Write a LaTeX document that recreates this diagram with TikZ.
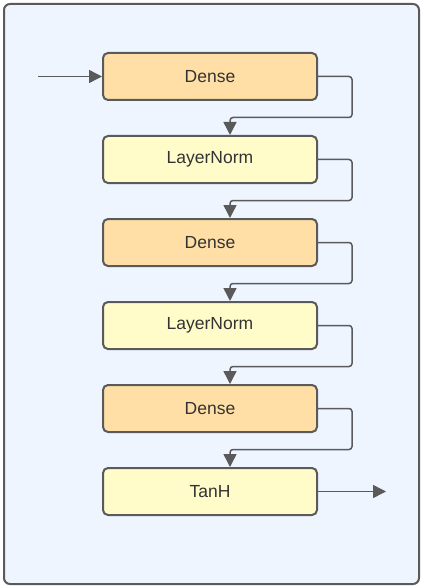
\documentclass[tikz,border=0pt]{standalone}
\usepackage{fontspec}
\setmainfont{Liberation Sans}
\usetikzlibrary{arrows.meta}
\definecolor{bgblue}{HTML}{EEF5FF}
\definecolor{edge}{HTML}{5A5A5A}
\definecolor{denseC}{HTML}{FFDFA6}
\definecolor{normC}{HTML}{FFFCCA}
\definecolor{txt}{HTML}{333333}
\tikzset{
  blk/.style={draw=edge, line width=2pt, rounded corners=5pt, minimum width=214pt, minimum height=47pt, inner sep=0pt, text=txt, font=\fontsize{17.5}{20}\selectfont},
  denseblk/.style={blk, fill=denseC},
  normblk/.style={blk, fill=normC},
  conn/.style={draw=edge, line width=1.5pt, rounded corners=3pt, -{Triangle[width=13pt,length=13pt]}},
}
\begin{document}
\begin{tikzpicture}[x=1pt,y=-1pt]
\useasboundingbox (0,0) rectangle (423,588);
\draw[draw=edge, line width=2pt, fill=bgblue, rounded corners=6pt] (4,4) rectangle (419,584);
\node[denseblk] (d1) at (210,76.5) {Dense};
\node[normblk] (l1) at (210,159.5) {LayerNorm};
\node[denseblk] (d2) at (210,242.5) {Dense};
\node[normblk] (l2) at (210,325.5) {LayerNorm};
\node[denseblk] (d3) at (210,408.5) {Dense};
\node[normblk] (t1) at (210,491.5) {TanH};
\coordinate (in) at (38,76.5);
\coordinate (out) at (386,491.5);
\draw[conn] (in) -- (d1.west);
\draw[conn] (d1.east) -- ++(34,0) -- ++(0,41) -| ([xshift=20pt]l1.north);
\draw[conn] (l1.east) -- ++(34,0) -- ++(0,41) -| ([xshift=20pt]d2.north);
\draw[conn] (d2.east) -- ++(34,0) -- ++(0,41) -| ([xshift=20pt]l2.north);
\draw[conn] (l2.east) -- ++(34,0) -- ++(0,41) -| ([xshift=20pt]d3.north);
\draw[conn] (d3.east) -- ++(34,0) -- ++(0,41) -| ([xshift=20pt]t1.north);
\draw[conn] (t1.east) -- (out);
\end{tikzpicture}
\end{document}
